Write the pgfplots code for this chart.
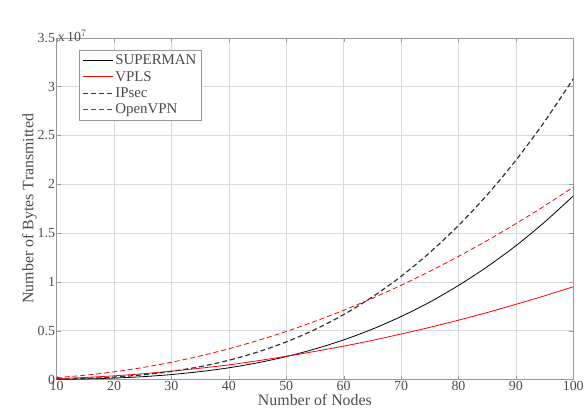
\documentclass[border=0pt]{standalone}
\usepackage{pgfplots}
\pgfplotsset{compat=1.18}
\usepackage{fontspec}
\setmainfont{Liberation Serif}
\pgfplotsset{dashleg/.style={legend image code/.code={\draw[##1, solid] (0pt,0pt) -- (5pt,0pt) (8pt,0pt) -- (13pt,0pt) (16pt,0pt) -- (21pt,0pt) (24pt,0pt) -- (29pt,0pt);}}}
\begin{document}
\begin{tikzpicture}
\begin{axis}[
  scale only axis, width=520pt, height=344pt,
  xmin=10, xmax=100, ymin=0, ymax=3.5,
  xtick={10,20,...,100}, ytick={0,0.5,...,3.5},
  yticklabels={0,0.5,1,1.5,2,2.5,3,3.5},
  grid=major, major grid style={gray!30},
  axis line style={gray!80}, tick style={gray!80},
  tick align=inside, major tick length=4pt,
  /pgf/number format/assume math mode=true,
  ticklabel style={font=\fontsize{14}{15}\selectfont, text=black!70},
  xticklabel style={yshift=2pt},
  yticklabel style={xshift=2pt},
  label style={font=\fontsize{16}{17}\selectfont, text=black!70},
  xlabel={Number of Nodes}, ylabel={Number of Bytes Transmitted},
  xlabel style={yshift=3pt}, ylabel style={yshift=-6pt},
  legend style={at={(0.044,0.965)}, anchor=north west, draw=gray!80,
    font=\fontsize{15}{16}\selectfont, row sep=1pt, inner sep=3pt},
  legend cell align=left,
  legend image code/.code={\draw[#1] (0pt,0pt) -- (30pt,0pt);},
]
\addplot[black, thick, smooth] coordinates {
(10,0.002) (15,0.006) (20,0.015) (25,0.029) (30,0.051) (35,0.081) (40,0.120) (45,0.171) (50,0.235) (55,0.313) (60,0.406) (65,0.516) (70,0.645) (75,0.793) (80,0.963) (85,1.155) (90,1.370) (95,1.612) (100,1.880)};
\addlegendentry{\textcolor{black!70}{SUPERMAN}}
\addplot[red, thick, smooth] coordinates {
(10,0.010) (15,0.021) (20,0.038) (25,0.059) (30,0.086) (35,0.116) (40,0.150) (45,0.192) (50,0.238) (55,0.288) (60,0.342) (65,0.401) (70,0.466) (75,0.534) (80,0.608) (85,0.686) (90,0.770) (95,0.857) (100,0.950)};
\addlegendentry{\textcolor{black!70}{VPLS}}
\addplot[black!80, very thick, dash pattern=on 5pt off 3pt, smooth, dashleg] coordinates {
(10,0.003) (15,0.010) (20,0.025) (25,0.048) (30,0.083) (35,0.132) (40,0.197) (45,0.281) (50,0.385) (55,0.512) (60,0.665) (65,0.846) (70,1.056) (75,1.300) (80,1.577) (85,1.891) (90,2.245) (95,2.641) (100,3.080)};
\addlegendentry{\textcolor{black!70}{IPsec}}
\addplot[red, thick, dash pattern=on 5pt off 3pt, smooth, dashleg] coordinates {
(10,0.020) (15,0.044) (20,0.079) (25,0.123) (30,0.177) (35,0.241) (40,0.315) (45,0.399) (50,0.492) (55,0.596) (60,0.709) (65,0.832) (70,0.965) (75,1.108) (80,1.261) (85,1.423) (90,1.596) (95,1.778) (100,1.970)};
\addlegendentry{\textcolor{black!70}{OpenVPN}}
\end{axis}
\node[anchor=south west, font=\fontsize{14}{15}\selectfont, text=black!70, inner sep=0pt] at ([xshift=1pt,yshift=-4pt]current axis.north west) {x\,10$^{7}$};
\path ([shift={(-57pt,-37pt)}]current axis.south west) rectangle ([shift={(10pt,38pt)}]current axis.north east);
\end{tikzpicture}
\end{document}
